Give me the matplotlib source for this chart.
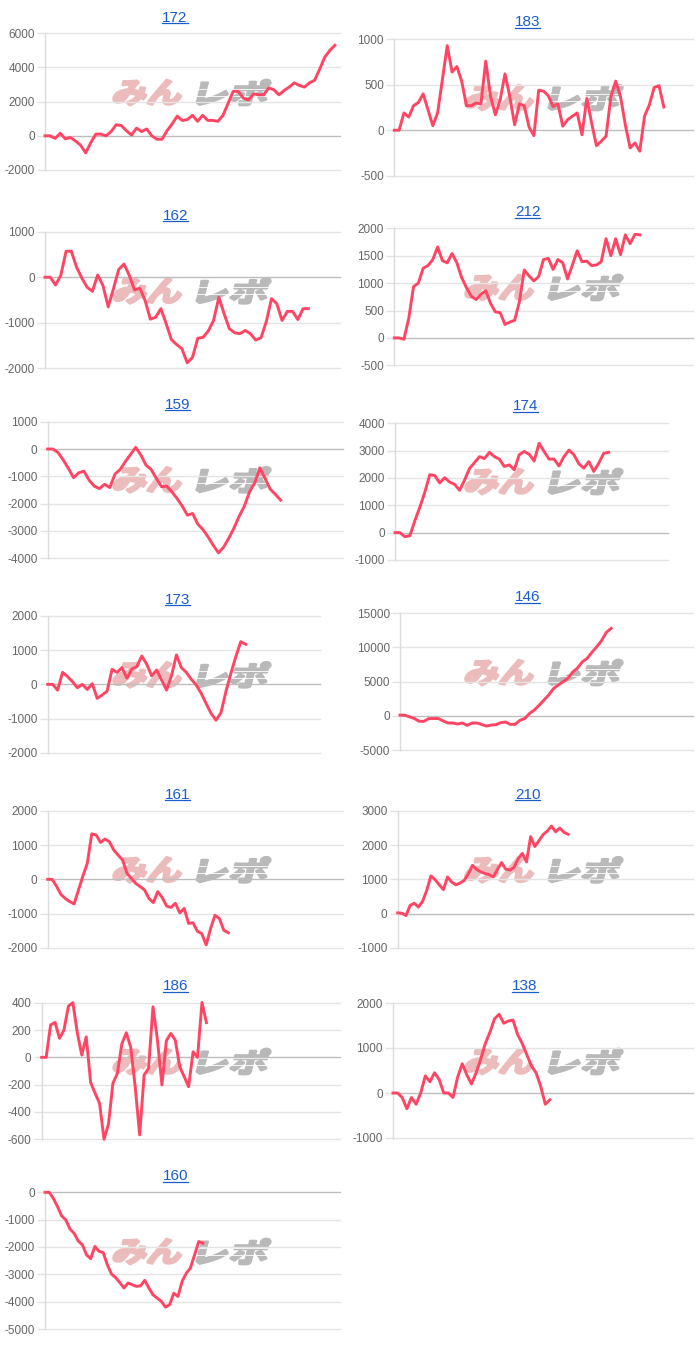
import matplotlib
matplotlib.use('Agg')
import matplotlib.pyplot as plt
from matplotlib.textpath import TextPath
from matplotlib.font_manager import FontProperties
from matplotlib.patches import PathPatch
from matplotlib.transforms import Affine2D
import numpy as np

plt.rcParams['font.family'] = ['Liberation Sans', 'Noto Sans CJK JP']
plt.rcParams['axes.unicode_minus'] = False

# --- data -------------------------------------------------------------
titles = ['172', '183', '162', '212', '159', '174', '173',
          '146', '161', '210', '186', '138', '160']

s172 = [0, 0, -150, 150, -180, -100, -300, -550, -1000, -400, 100, 100, 0, 250,
        650, 600, 300, 50, 450, 250, 400, 0, -200, -200, 300, 700, 1150, 900,
        950, 1200, 850, 1200, 900, 900, 850, 1200, 1900, 2600, 2600, 2200, 2100,
        2450, 2400, 2400, 2800, 2700, 2400, 2650, 2850, 3100, 2950, 2850, 3100,
        3250, 3900, 4600, 5000, 5300]
s183 = [0, 0, 190, 145, 270, 305, 400, 225, 50, 190, 560, 930, 640, 700, 540,
        270, 270, 300, 290, 760, 370, 170, 335, 620, 370, 60, 290, 270, 35, -60,
        440, 430, 380, 260, 290, 45, 115, 155, 190, -50, 350, 80, -170, -120,
        -65, 370, 540, 370, 60, -195, -140, -230, 155, 280, 470, 490, 255]
s162 = [0, 0, -170, 40, 570, 570, 220, -20, -220, -310, 50, -180, -650, -250,
        170, 290, 40, -280, -240, -510, -920, -880, -690, -1020, -1370, -1480,
        -1570, -1880, -1760, -1340, -1320, -1180, -950, -440, -800, -1130,
        -1220, -1240, -1170, -1240, -1380, -1330, -980, -470, -580, -950, -750,
        -750, -930, -690, -690]
s212 = [0, 0, -25, 355, 935, 1000, 1270, 1320, 1430, 1660, 1410, 1370, 1540,
        1370, 1100, 915, 760, 700, 800, 860, 630, 475, 460, 245, 290, 320, 660,
        1240, 1130, 1040, 1120, 1430, 1450, 1250, 1430, 1370, 1075, 1330, 1590,
        1390, 1400, 1320, 1330, 1390, 1810, 1500, 1810, 1520, 1880, 1720, 1890,
        1880]
s159 = [0, 0, -130, -400, -710, -1050, -870, -810, -1140, -1360, -1450, -1290,
        -1410, -920, -750, -460, -200, 60, -220, -590, -750, -1080, -1380, -1360,
        -1570, -1810, -2090, -2420, -2360, -2750, -2950, -3220, -3530, -3800,
        -3590, -3260, -2890, -2460, -2090, -1570, -1240, -690, -1080, -1470,
        -1660, -1870]
s174 = [0, 0, -150, -110, 440, 930, 1480, 2120, 2090, 1820, 2010, 1850, 1770,
        1550, 1920, 2350, 2560, 2780, 2710, 2940, 2780, 2690, 2420, 2480, 2300,
        2850, 2970, 2870, 2620, 3270, 2970, 2690, 2690, 2440, 2780, 3020, 2850,
        2520, 2360, 2600, 2240, 2540, 2900, 2940]
s173 = [0, 0, -170, 350, 230, 80, -100, 0, -150, 20, -410, -310, -200, 440,
        350, 490, 180, 450, 520, 830, 590, 250, 420, 130, -170, 250, 860, 490,
        350, 150, -20, -260, -560, -850, -1050, -830, -210, 320, 810, 1250, 1170]
s146 = [100, 100, -150, -400, -800, -800, -400, -400, -400, -750, -1050, -1050,
        -1200, -1050, -1400, -1050, -1050, -1250, -1500, -1350, -1300, -1000,
        -900, -1250, -1250, -650, -400, 350, 850, 1550, 2300, 3050, 4000, 4500,
        5000, 5500, 6400, 7000, 7900, 8400, 9300, 10100, 11000, 12200, 12800]
s161 = [0, 0, -200, -440, -560, -650, -720, -310, 100, 470, 1330, 1300, 1080,
        1180, 1100, 860, 710, 570, 180, 30, -120, -210, -310, -560, -680, -360,
        -530, -780, -820, -700, -980, -850, -1290, -1270, -1520, -1590, -1920,
        -1440, -1050, -1150, -1490, -1560]
s210 = [20, 10, -60, 240, 300, 190, 360, 680, 1100, 990, 840, 700, 1070, 920,
        840, 890, 970, 1160, 1410, 1290, 1220, 1170, 1140, 1070, 1290, 1490,
        1300, 1270, 1350, 1610, 1760, 1510, 2250, 1960, 2130, 2310, 2410, 2560,
        2390, 2500, 2380, 2320]
s186 = [0, 0, 237, 256, 139, 200, 375, 400, 180, 17, 150, -185, -263, -337,
        -600, -488, -190, -117, 98, 180, 73, -215, -568, -130, -80, 370, 127,
        -202, 122, 175, 127, -68, -141, -215, 41, 0, 402, 254]
s138 = [0, 0, -100, -350, -100, -250, 0, 380, 250, 450, 300, 0, 0, -100, 350,
        650, 400, 200, 450, 750, 1100, 1350, 1650, 1750, 1550, 1600, 1620, 1300,
        1100, 850, 600, 450, 150, -250, -150]
s160 = [0, 0, -220, -520, -860, -1010, -1340, -1500, -1780, -1920, -2290,
        -2430, -1980, -2160, -2200, -2650, -2990, -3120, -3300, -3500, -3320,
        -3380, -3440, -3420, -3220, -3500, -3750, -3870, -3990, -4200, -4110,
        -3690, -3810, -3260, -2960, -2770, -2290, -1800, -1860]

series = [s172, s183, s162, s212, s159, s174, s173,
          s146, s161, s210, s186, s138, s160]

yticks = [
    [-2000, 0, 2000, 4000, 6000],
    [-500, 0, 500, 1000],
    [-2000, -1000, 0, 1000],
    [-500, 0, 500, 1000, 1500, 2000],
    [-4000, -3000, -2000, -1000, 0, 1000],
    [-1000, 0, 1000, 2000, 3000, 4000],
    [-2000, -1000, 0, 1000, 2000],
    [-5000, 0, 5000, 10000, 15000],
    [-2000, -1000, 0, 1000, 2000],
    [-1000, 0, 1000, 2000, 3000],
    [-600, -400, -200, 0, 200, 400],
    [-1000, 0, 1000, 2000],
    [-5000, -4000, -3000, -2000, -1000, 0],
]

# --- layout (pixels) ----------------------------------------------------
W, H = 700, 1351
x_slots = [58, 62, 56, 62, 57, 55, 55, 61, 67, 71, 67, 65, 71]
boxes = [  # left, right, top, bottom
    (45, 340, 33.3, 170), (394.3, 692.7, 39.3, 175.7),
    (45, 340, 231.7, 368.3), (394.3, 692.7, 228.3, 365.3),
    (47.7, 342.7, 421.7, 558.3), (395, 668.3, 423.3, 560),
    (47.7, 320, 616, 752.7), (400, 692.7, 613.3, 750),
    (47.7, 342.7, 811, 947.7), (397.7, 692.7, 811, 947.7),
    (41.7, 340, 1002.7, 1139.3), (393, 693, 1003, 1138),
    (45, 340, 1192.3, 1329),
]
title_pos = [  # centre x, baseline y
    (175, 21.5), (527.7, 26.5), (175.3, 219.8), (527.7, 216.5),
    (177.7, 408.8), (525.3, 410.5), (177.7, 603.8), (527.7, 601.5),
    (177.7, 798.8), (527.7, 798.8), (175.3, 990.5), (525, 990.5),
    (175.3, 1180.5),
]

line_color = '#ff4563'
link_color = '#1a5dcf'

fig = plt.figure(figsize=(W / 100, H / 100), dpi=100, facecolor='white')
bg = fig.add_axes([0, 0, 1, 1], zorder=-1)
bg.set_xlim(0, W)
bg.set_ylim(H, 0)
bg.axis('off')

wm_font = FontProperties(family='Noto Sans CJK JP', weight='bold')


def fitted_text(text, x0, x1, y0, y1, color, lean=14):
    # squeeze a glyph path into a pixel box, leaning right, thickened
    tp = TextPath((0, 0), text, size=100, prop=wm_font)
    ext = tp.get_extents()
    h = y1 - y0
    w = (x1 - x0) - h * np.tan(np.radians(lean))
    tr = (Affine2D().translate(-ext.x0, -ext.y0)
          .scale(w / ext.width, h / ext.height)
          .skew_deg(lean, 0)
          .scale(1, -1)
          .translate(x0, y1))
    bg.add_patch(PathPatch(tr.transform_path(tp), facecolor=color,
                           edgecolor=color, lw=2.0, joinstyle='round'))


def watermark(xl, top):
    bot = top + 27
    fitted_text('みん', xl + 2, xl + 75, top + 2, bot, '#ecbcbc')
    fitted_text('レポ', xl + 86, xl + 161, top + 2, bot, '#b9b9b9')
    for f in (0.4, 0.66):
        yy = top + f * (bot - top)
        bg.plot([xl + 86, xl + 166], [yy, yy], color='white', lw=0.6)


fig.canvas.draw()
renderer = fig.canvas.get_renderer()

for i, name in enumerate(titles):
    l, r, t, b = boxes[i]
    ax = fig.add_axes([l / W, 1 - b / H, (r - l) / W, (b - t) / H])
    ax.patch.set_visible(False)
    vals = series[i]
    ax.plot(np.arange(len(vals)), vals, color=line_color, lw=2.1,
            solid_joinstyle='round', clip_on=False, zorder=4)
    ax.set_xlim(0, x_slots[i])
    yt = yticks[i]
    ax.set_ylim(yt[0], yt[-1])
    ax.set_yticks(yt)
    ax.set_yticklabels([str(v) for v in yt])
    ax.set_xticks([])
    for sp in ('top', 'right', 'bottom'):
        ax.spines[sp].set_visible(False)
    ax.spines['left'].set_color('#dcdcdc')
    ax.spines['left'].set_linewidth(1.0)
    ax.tick_params(axis='y', length=5.8, width=1.0, color='#e2e2e2',
                   labelcolor='#666666', labelsize=8.5, pad=1.6)
    for v in yt:
        c = '#bdbdbd' if v == 0 else '#e4e4e4'
        ax.axhline(v, color=c, lw=1.0, zorder=1, clip_on=False)

    cx, by = title_pos[i]
    txt = fig.text(cx / W, 1 - by / H, name, ha='center', va='baseline',
                   fontsize=11, color=link_color)
    bb = txt.get_window_extent(renderer)
    bg.plot([bb.x0, bb.x1], [by + 1.6, by + 1.6], color=link_color, lw=0.9)

    xl = 110 if cx < 350 else 462
    watermark(xl, by + 56.5)

fig.savefig('out.png', dpi=100, facecolor='white')
